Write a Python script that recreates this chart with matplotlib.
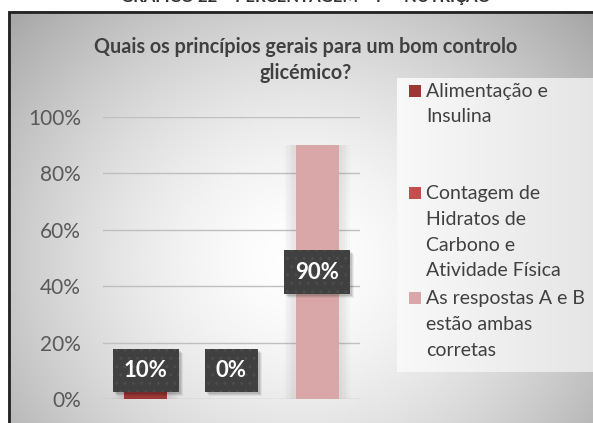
import matplotlib
matplotlib.use("Agg")
import matplotlib.pyplot as plt
import numpy as np
from matplotlib.patches import Rectangle
from matplotlib.transforms import IdentityTransform

plt.rcParams['font.family'] = ['Lato', 'DejaVu Sans']
plt.rcParams['hatch.linewidth'] = 1.0

# data
categories = ["Alimentação e Insulina",
              "Contagem de Hidratos de Carbono e Atividade Física",
              "As respostas A e B estão ambas corretas"]
legend_lines = [["Alimentação e", "Insulina"],
                ["Contagem de", "Hidratos de", "Carbono e", "Atividade Física"],
                ["As respostas A e B", "estão ambas", "corretas"]]
values = [0.10, 0.00, 0.90]
value_labels = ["10%", "0%", "90%"]
label_pos = [0.10, 0.10, 0.45]
colors = ["#9b3835", "#c0504d", "#d9a7a7"]
yticks = [0, 0.2, 0.4, 0.6, 0.8, 1.0]
ytick_labels = ["0%", "20%", "40%", "60%", "80%", "100%"]
title = "Quais os princípios gerais para um bom controlo\nglicémico?"
caption = "GRÁFICO 22 – PERCENTAGEM – P – NUTRIÇÃO"

W, H = 593, 423
fig = plt.figure(figsize=(W / 100, H / 100), dpi=100)

def fx(px):
    return px / W

def fy(py):
    return (H - py) / H

# background with radial gradient inside the frame
bg = fig.add_axes([0, 0, 1, 1])
bg.axis("off")
yy, xx = np.mgrid[0:H, 0:W]
r = np.sqrt(((xx - 300) / 330.0) ** 2 + ((yy - 260) / 300.0) ** 2)
shade = np.clip(1 - 0.26 * r ** 1.6, 0, 1)
img = np.dstack([shade, shade, shade])
img[:11, :, :] = 1
img[:, :8, :] = 1
bg.imshow(img, extent=(0, W, H, 0), aspect="auto", interpolation="bilinear")
bg.plot([9, 9, W + 5], [H + 5, 12, 12], color="#222222", lw=2, solid_joinstyle="miter")

# legend box background
lg = np.linspace(0.975, 0.90, 100)
lg_img = np.tile(lg, (50, 1))
bg.imshow(np.dstack([lg_img] * 3), extent=(397, W, 372, 78), aspect="auto",
          interpolation="bilinear")
bg.set_xlim(0, W)
bg.set_ylim(H, 0)

fig.text(fx(306), fy(-5), caption, ha="center", va="center", fontsize=12,
         fontweight="bold", color="#333333")

fig.text(fx(306), fy(60), title, ha="center", va="center", fontsize=14.2,
         fontweight="bold", color="#404040", linespacing=1.35)

# main plot
ax = fig.add_axes([fx(103), fy(399), fx(360) - fx(103), fy(117) - fy(399)])
ax.patch.set_alpha(0)
x = np.arange(len(values))
for wdt in [0.58, 0.64, 0.70, 0.76]:
    ax.bar(x, values, width=wdt, color="#808080", alpha=0.045, zorder=1, lw=0)
ax.bar(x, values, width=0.5, color=colors, zorder=2)
ax.set_xlim(-0.5, len(values) - 0.5)
ax.set_ylim(0, 1.0)
ax.set_yticks(yticks)
ax.set_yticklabels(ytick_labels, fontsize=15, color="#595959")
ax.tick_params(axis="y", length=0, pad=16)
ax.set_xticks([])
for s in ax.spines.values():
    s.set_visible(False)
ax.grid(axis="y", color="#bfbfbf", lw=1, zorder=0)
ax.set_axisbelow(True)

labels = []
for xi, lp, lab in zip(x, label_pos, value_labels):
    t = ax.text(xi, lp, lab, ha="center", va="center", fontsize=16,
                fontweight="bold", color="white", zorder=4,
                bbox=dict(boxstyle="square,pad=0.5", fc="#404040", ec="#4c4c4c",
                          lw=0, hatch=".."))
    labels.append(t)

# soft shadows behind the label boxes
fig.canvas.draw()
renderer = fig.canvas.get_renderer()
for t in labels:
    bb = t.get_bbox_patch().get_window_extent(renderer)
    for k, a in [(4, 0.06), (3, 0.08), (2, 0.1)]:
        ax.add_artist(Rectangle((bb.x0 + k, bb.y0 - k), bb.width, bb.height,
                                transform=IdentityTransform(), fc="black",
                                alpha=a, lw=0, zorder=3))

# legend
first_line_y = [91, 193, 298]
for lines, c, y0 in zip(legend_lines, colors, first_line_y):
    fig.patches.append(Rectangle((fx(409), fy(y0 + 6)), fx(12), 12 / H,
                                 transform=fig.transFigure, fc=c, ec="none"))
    for i, t in enumerate(lines):
        fig.text(fx(426), fy(y0 + i * 26), t, ha="left", va="center",
                 fontsize=14, color="#404040")

fig.savefig("out.png", dpi=100)
